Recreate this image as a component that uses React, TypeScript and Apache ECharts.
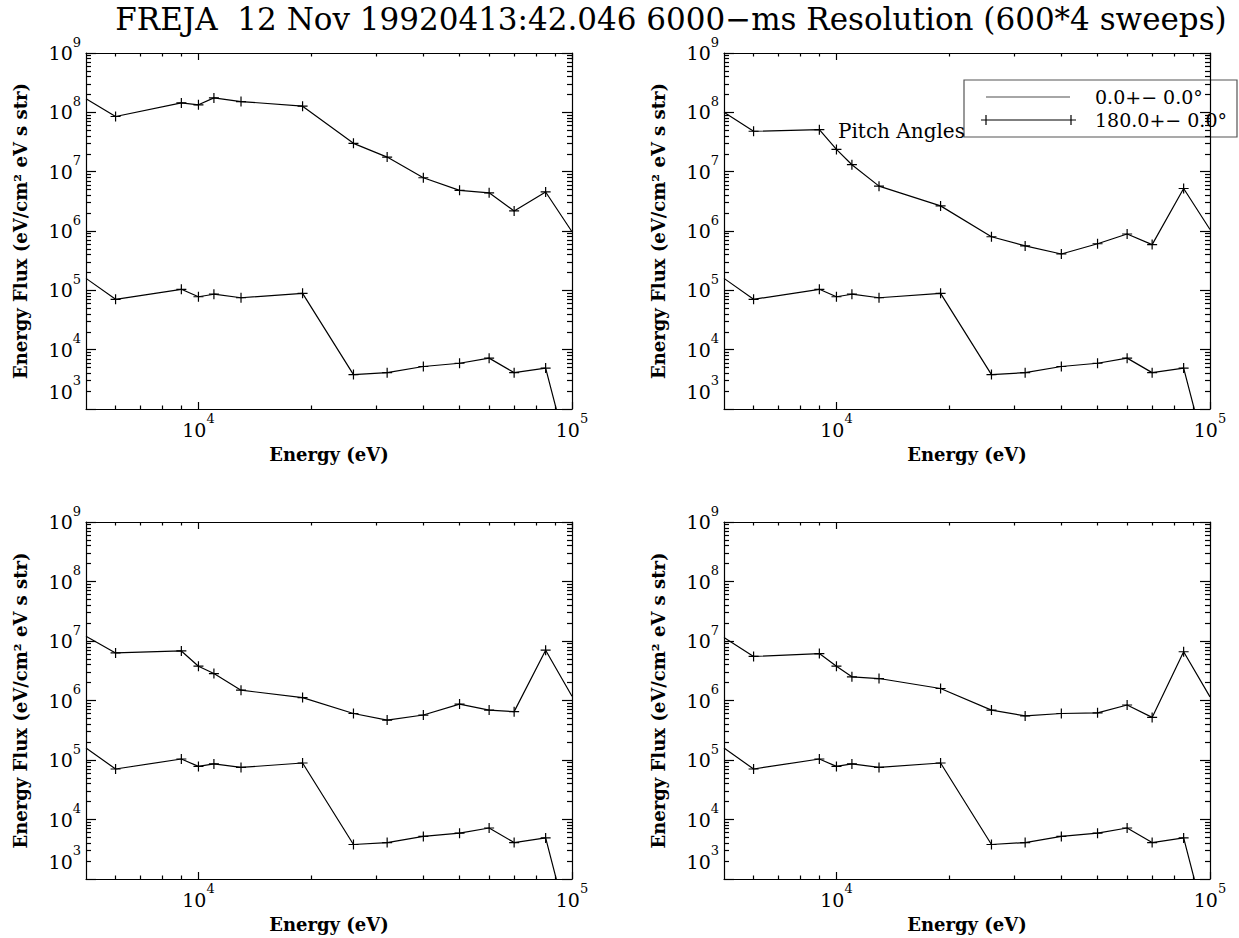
import React, { useEffect, useRef } from 'react';
import * as echarts from 'echarts';

const TITLE = 'FREJA  12 Nov 19920413:42.046 6000\u2212ms Resolution (600*4 sweeps)';
const X_NAME = 'Energy (eV)';
const Y_NAME = 'Energy Flux (eV/cm\u00b2 eV s str)';
const LEGEND_LABELS = ['0.0+\u2212 0.0\u00b0', '180.0+\u2212 0.0\u00b0'];
const NOTE = 'Pitch Angles';

// Energies (eV) of the sweep steps; first and last lie on the plot edges
const energies = [5000, 6000, 9000, 10000, 11000, 13000, 19000, 26000, 32000, 40000, 50000, 60000, 70000, 85000, 100000];

// Upper (180 deg) curve per panel
const fluxTopLeft = [1.69e8, 8.5e7, 1.44e8, 1.34e8, 1.75e8, 1.52e8, 1.27e8, 3.0e7, 1.76e7, 7.9e6, 4.85e6, 4.4e6, 2.18e6, 4.55e6, 9.7e5];
const fluxTopRight = [1.0e8, 4.8e7, 5.1e7, 2.37e7, 1.31e7, 5.7e6, 2.65e6, 8.0e5, 5.6e5, 4.1e5, 6.1e5, 8.9e5, 5.9e5, 5.2e6, 1.06e6];
const fluxBottomLeft = [1.2e7, 6.3e6, 6.8e6, 3.77e6, 2.84e6, 1.49e6, 1.12e6, 6.05e5, 4.68e5, 5.7e5, 8.7e5, 6.9e5, 6.5e5, 7.0e6, 1.18e6];
const fluxBottomRight = [1.14e7, 5.5e6, 6.15e6, 3.77e6, 2.5e6, 2.34e6, 1.59e6, 6.9e5, 5.5e5, 6.05e5, 6.2e5, 8.4e5, 5.2e5, 6.6e6, 1.15e6];
// Lower curve (same in all panels)
const fluxLower = [1.59e5, 7.06e4, 1.04e5, 7.8e4, 8.6e4, 7.5e4, 8.9e4, 3.8e3, 4.1e3, 5.2e3, 5.9e3, 7.2e3, 4.1e3, 4.9e3, 95];

const xRange = [5000, 100000];
const yRange = [1e3, 1e9];
const xMajorTicks = [1e4, 1e5];
const xMinorTicks = [6000, 7000, 8000, 9000, 2e4, 3e4, 4e4, 5e4, 6e4, 7e4, 8e4, 9e4];
const yMajorTicks = [1e3, 1e4, 1e5, 1e6, 1e7, 1e8, 1e9];
const yLabelTicks = [1e4, 1e5, 1e6, 1e7, 1e8, 1e9];
const yBottomLabel = [1e3];
const yMinorMultipliers = [2, 3, 4, 5, 6, 7, 8, 9];
const yMinorDecades = [1e3, 1e4, 1e5, 1e6, 1e7, 1e8];

const SERIF = '"DejaVu Serif", serif';
const lg = (v: number) => Math.log10(v);
const PLUS = 'path://M5,0L5,10M0,5L10,5';

const panels = [
  { upper: fluxTopLeft, rect: { left: 86, top: 53, width: 486, height: 356 } },
  { upper: fluxTopRight, rect: { left: 724, top: 53, width: 486, height: 356 } },
  { upper: fluxBottomLeft, rect: { left: 86, top: 522, width: 486, height: 357 } },
  { upper: fluxBottomRight, rect: { left: 724, top: 522, width: 486, height: 357 } },
];

const yMinorTicks: number[] = [];
yMinorDecades.forEach((d) => yMinorMultipliers.forEach((m) => yMinorTicks.push(m * d)));

const axisLineStyle = { color: '#000', width: 1.2 };
const rich = {
  b: { fontSize: 19, fontFamily: SERIF, color: '#000', lineHeight: 35, verticalAlign: 'middle' },
  s: { fontSize: 13, fontFamily: SERIF, color: '#000', lineHeight: 14, verticalAlign: 'top' },
};
const powLabel = (v: number) => `{b|10}{s|${Math.round(v)}}`;
const nameStyle = { fontFamily: SERIF, fontSize: 18, fontWeight: 'bold', color: '#000' };

function buildXAxes(gi: number) {
  const base: any = {
    type: 'value', gridIndex: gi, min: lg(xRange[0]), max: lg(xRange[1]),
    splitLine: { show: false }, axisLine: { show: false }, axisTick: { show: false }, axisLabel: { show: false },
  };
  const major = { show: true, inside: true, length: 7, customValues: xMajorTicks.map(lg), lineStyle: axisLineStyle };
  const minor = { show: true, inside: true, length: 3.5, customValues: xMinorTicks.map(lg), lineStyle: axisLineStyle };
  return [
    {
      ...base, position: 'bottom', axisLine: { show: true, lineStyle: axisLineStyle }, axisTick: major,
      axisLabel: {
        show: true, customValues: xMajorTicks.map(lg), formatter: powLabel, rich, margin: 3,
        showMinLabel: true, showMaxLabel: true, hideOverlap: false,
      },
      name: X_NAME, nameLocation: 'middle', nameGap: 36, nameTextStyle: nameStyle,
    },
    { ...base, position: 'bottom', axisTick: minor },
    { ...base, position: 'top', axisLine: { show: true, lineStyle: axisLineStyle }, axisTick: major },
    { ...base, position: 'top', axisTick: minor },
  ];
}

function buildYAxes(gi: number) {
  const base: any = {
    type: 'value', gridIndex: gi, min: lg(yRange[0]), max: lg(yRange[1]),
    splitLine: { show: false }, axisLine: { show: false }, axisTick: { show: false }, axisLabel: { show: false },
  };
  const major = { show: true, inside: true, length: 10, customValues: yMajorTicks.map(lg), lineStyle: axisLineStyle };
  const minor = { show: true, inside: true, length: 5, customValues: yMinorTicks.map(lg), lineStyle: axisLineStyle };
  return [
    {
      ...base, position: 'left', axisLine: { show: true, lineStyle: axisLineStyle }, axisTick: major,
      axisLabel: {
        show: true, customValues: yLabelTicks.map(lg), formatter: powLabel, rich, margin: 5,
        showMinLabel: true, showMaxLabel: true, hideOverlap: false,
      },
      name: Y_NAME, nameLocation: 'middle', nameGap: 57, nameRotate: 90, nameTextStyle: nameStyle,
    },
    {
      ...base, position: 'left', axisTick: minor,
      axisLabel: {
        show: true, customValues: yBottomLabel.map(lg), formatter: powLabel, rich, margin: 5,
        verticalAlign: 'bottom', showMinLabel: true, showMaxLabel: true, hideOverlap: false,
      },
    },
    { ...base, position: 'right', axisLine: { show: true, lineStyle: axisLineStyle }, axisTick: major },
    { ...base, position: 'right', axisTick: minor },
  ];
}

function buildSeries(gi: number, flux: number[]) {
  const last = energies.length - 1;
  return {
    type: 'line', xAxisIndex: gi * 4, yAxisIndex: gi * 4, silent: true, clip: true,
    showAllSymbol: true, symbolSize: 10,
    data: energies.map((e, i) => ({
      value: [lg(e), lg(flux[i])],
      symbol: i === 0 || i === last ? 'none' : PLUS,
    })),
    lineStyle: { color: '#000', width: 1.2 },
    itemStyle: { color: '#000', borderColor: '#000', borderWidth: 1.2 },
  };
}

export default function App() {
  const ref = useRef<HTMLDivElement>(null);
  useEffect(() => {
    if (!ref.current) return;
    const chart = echarts.init(ref.current, undefined, { renderer: 'svg' });
    const xAxis: any[] = [];
    const yAxis: any[] = [];
    const series: any[] = [];
    panels.forEach((p, gi) => {
      xAxis.push(...buildXAxes(gi));
      yAxis.push(...buildYAxes(gi));
      series.push(buildSeries(gi, p.upper));
      series.push(buildSeries(gi, fluxLower));
    });
    const textFont = { fontFamily: SERIF, fontSize: 19, fill: '#000' };
    chart.setOption({
      animation: false,
      backgroundColor: '#fff',
      title: {
        text: TITLE, left: 671, top: 3, textAlign: 'center', padding: 0,
        textStyle: { fontFamily: SERIF, fontSize: 31, lineHeight: 31, fontWeight: 'normal', color: '#000' },
      },
      grid: panels.map((p) => ({ ...p.rect, containLabel: false, outerBoundsMode: 'none' })),
      xAxis,
      yAxis,
      series,
      graphic: [
        { type: 'rect', shape: { x: 964, y: 80, width: 273, height: 57 }, style: { fill: 'none', stroke: '#555', lineWidth: 1.2 }, silent: true },
        { type: 'line', shape: { x1: 986, y1: 97, x2: 1070, y2: 97 }, style: { stroke: '#888', lineWidth: 1.5 }, silent: true },
        { type: 'line', shape: { x1: 981, y1: 120, x2: 1076, y2: 120 }, style: { stroke: '#000', lineWidth: 1.2 }, silent: true },
        { type: 'line', shape: { x1: 986, y1: 115, x2: 986, y2: 125 }, style: { stroke: '#000', lineWidth: 1.2 }, silent: true },
        { type: 'line', shape: { x1: 1071, y1: 115, x2: 1071, y2: 125 }, style: { stroke: '#000', lineWidth: 1.2 }, silent: true },
        { type: 'text', x: 1095, y: 97, style: { ...textFont, text: LEGEND_LABELS[0], verticalAlign: 'middle' }, silent: true },
        { type: 'text', x: 1095, y: 120, style: { ...textFont, text: LEGEND_LABELS[1], verticalAlign: 'middle' }, silent: true },
        { type: 'text', x: 838, y: 131, style: { ...textFont, fontSize: 20, text: NOTE, verticalAlign: 'middle' }, silent: true },
      ],
    });
    return () => chart.dispose();
  }, []);
  return <div ref={ref} style={{ position: 'fixed', left: 0, top: 0, width: 1239, height: 938, background: '#fff' }} />;
}
